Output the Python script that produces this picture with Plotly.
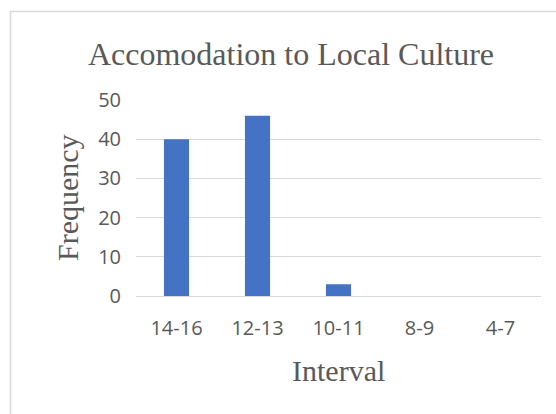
import plotly.graph_objects as go

# Frequency of scores per interval
intervals = ["14-16", "12-13", "10-11", "8-9", "4-7"]
frequency = [40, 46, 3, 0, 0]
y_ticks = [0, 10, 20, 30, 40, 50]

W, H = 556, 414
ML, MR, MT, MB = 136, 15, 100, 118
pw = W - ML - MR
ph = H - MT - MB

def px_x(x):
    return (x - ML) / pw

def px_y(y):
    return (H - MB - y) / ph

GRID = "#d9d9d9"
TEXT = "#595959"
SERIF = "Liberation Serif, Times New Roman, serif"
SANS = "Open Sans, Noto Sans, sans-serif"

fig = go.Figure(
    go.Bar(
        x=intervals,
        y=frequency,
        marker=dict(color="#4472C4", line=dict(width=0)),
        width=0.31,
    )
)

fig.update_layout(
    width=W,
    height=H,
    margin=dict(l=ML, r=MR, t=MT, b=MB),
    paper_bgcolor="white",
    plot_bgcolor="white",
    showlegend=False,
    title=dict(
        text="Accomodation to Local Culture",
        font=dict(family=SERIF, size=32, color=TEXT),
        xref="paper",
        x=px_x(291),
        xanchor="center",
        yref="container",
        y=1 - 54 / H,
        yanchor="middle",
    ),
    xaxis=dict(
        type="category",
        automargin=False,
        showgrid=False,
        showline=True,
        linecolor=GRID,
        linewidth=1,
        ticks="",
        ticklabelstandoff=14,
        tickfont=dict(family=SANS, size=20, color=TEXT),
    ),
    yaxis=dict(
        range=[0, 50],
        automargin=False,
        tickvals=y_ticks,
        showgrid=True,
        gridcolor=GRID,
        gridwidth=1,
        zeroline=False,
        showline=False,
        ticks="",
        ticklabelstandoff=14,
        tickfont=dict(family=SANS, size=20, color=TEXT),
    ),
    annotations=[
        dict(
            text="Frequency",
            textangle=-90,
            xref="paper",
            yref="paper",
            x=px_x(67),
            y=0.5,
            xanchor="center",
            yanchor="middle",
            showarrow=False,
            font=dict(family=SERIF, size=30, color=TEXT),
        ),
        dict(
            text="Interval",
            xref="paper",
            yref="paper",
            x=0.5,
            y=px_y(370),
            xanchor="center",
            yanchor="middle",
            showarrow=False,
            font=dict(family=SERIF, size=30, color=TEXT),
        ),
    ],
    shapes=[
        dict(
            type="rect",
            xref="paper",
            yref="paper",
            x0=px_x(10.5),
            x1=px_x(575),
            y0=px_y(430),
            y1=px_y(11.5),
            line=dict(color=GRID, width=1.5),
            fillcolor="rgba(0,0,0,0)",
            layer="below",
        )
    ],
)

fig.write_html("out.html")
